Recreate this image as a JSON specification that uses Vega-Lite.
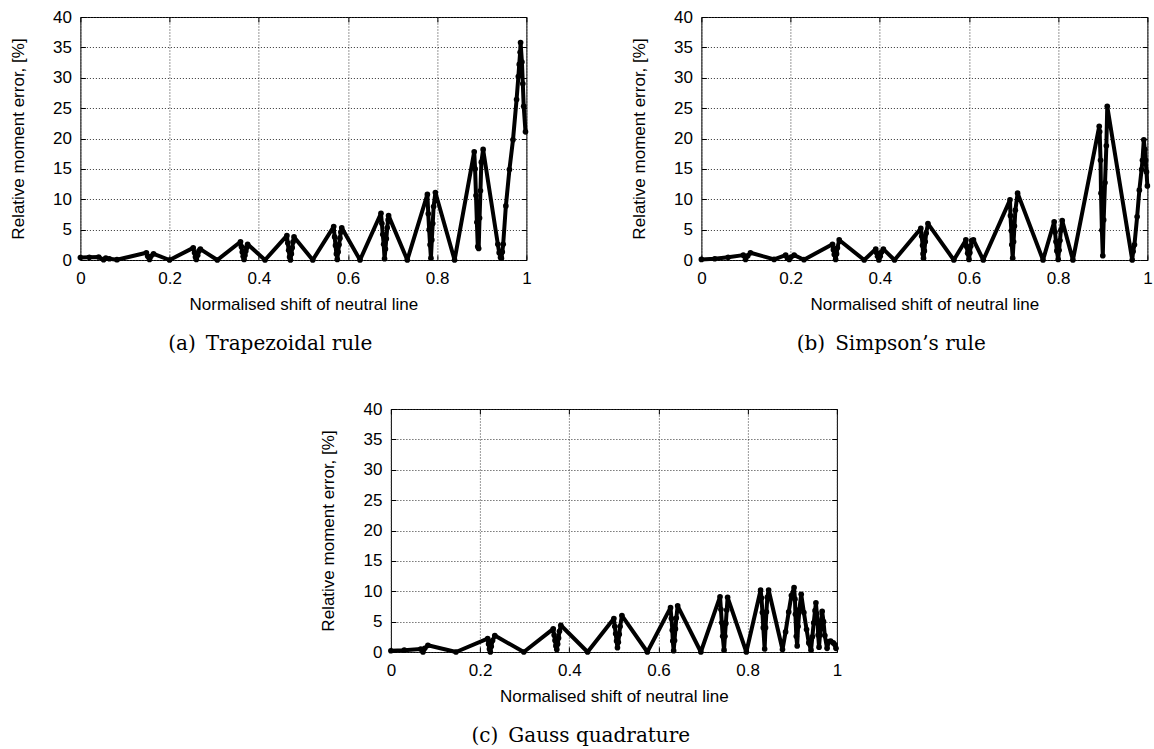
{
  "$schema": "https://vega.github.io/schema/vega-lite/v6.json",
  "padding": {"left": 8, "top": 7, "right": 0, "bottom": 0},
  "background": "white",
  "datasets": {
    "trapezoidal": [
      {"x":0,"y":0.4},{"x":0.02,"y":0.45},{"x":0.041,"y":0.5},{"x":0.052,"y":0.05},{"x":0.057,"y":0.3},{"x":0.065,"y":0.2},{"x":0.082,"y":0.05},
      {"x":0.148,"y":1.2},{"x":0.151,"y":0.6},{"x":0.155,"y":0.1},{"x":0.158,"y":0.6},{"x":0.164,"y":1.0},{"x":0.2,"y":0},
      {"x":0.253,"y":2.0},{"x":0.256,"y":1.2},{"x":0.258,"y":0.5},{"x":0.26,"y":0.1},{"x":0.263,"y":0.8},{"x":0.266,"y":1.5},{"x":0.269,"y":1.8},{"x":0.307,"y":0},
      {"x":0.359,"y":3.0},{"x":0.361,"y":2.2},{"x":0.363,"y":1.3},{"x":0.365,"y":0.6},{"x":0.367,"y":0.1},{"x":0.369,"y":0.8},{"x":0.371,"y":1.5},{"x":0.373,"y":2.1},{"x":0.375,"y":2.6},{"x":0.414,"y":0},
      {"x":0.463,"y":4.0},{"x":0.465,"y":2.8},{"x":0.467,"y":1.6},{"x":0.469,"y":0.5},{"x":0.471,"y":0},{"x":0.473,"y":1.0},{"x":0.475,"y":2.0},{"x":0.477,"y":3.0},{"x":0.479,"y":3.8},{"x":0.521,"y":0},
      {"x":0.568,"y":5.5},{"x":0.570,"y":3.8},{"x":0.572,"y":2.4},{"x":0.574,"y":1.0},{"x":0.576,"y":0.1},{"x":0.578,"y":1.3},{"x":0.580,"y":2.5},{"x":0.582,"y":3.6},{"x":0.584,"y":4.6},{"x":0.586,"y":5.3},{"x":0.627,"y":0},
      {"x":0.674,"y":7.7},{"x":0.676,"y":6.0},{"x":0.678,"y":4.2},{"x":0.680,"y":2.6},{"x":0.682,"y":0.2},{"x":0.684,"y":1.8},{"x":0.686,"y":3.5},{"x":0.688,"y":5.3},{"x":0.690,"y":6.6},{"x":0.691,"y":7.3},{"x":0.733,"y":0},
      {"x":0.778,"y":10.8},{"x":0.780,"y":7.6},{"x":0.782,"y":5.0},{"x":0.784,"y":2.5},{"x":0.786,"y":0.3},{"x":0.788,"y":3.3},{"x":0.790,"y":6.0},{"x":0.792,"y":8.8},{"x":0.796,"y":11.1},{"x":0.839,"y":0},
      {"x":0.883,"y":17.8},{"x":0.885,"y":15.0},{"x":0.887,"y":10.6},{"x":0.889,"y":6.2},{"x":0.891,"y":2.2},{"x":0.893,"y":1.9},{"x":0.895,"y":6.9},{"x":0.897,"y":11.4},{"x":0.899,"y":16.1},{"x":0.903,"y":18.2},
      {"x":0.936,"y":2.6},{"x":0.939,"y":1.2},{"x":0.942,"y":0.4},{"x":0.944,"y":0.3},{"x":0.946,"y":1.3},{"x":0.948,"y":2.6},
      {"x":0.954,"y":8.9},{"x":0.962,"y":14.9},{"x":0.970,"y":19.8},{"x":0.978,"y":26.4},{"x":0.982,"y":30.2},{"x":0.984,"y":32.2},{"x":0.986,"y":34.2},{"x":0.987,"y":35.8},
      {"x":0.990,"y":32.6},{"x":0.992,"y":29.0},{"x":0.994,"y":25.3},{"x":0.998,"y":21.1}
    ],
    "simpson": [
      {"x":0,"y":0.1},{"x":0.03,"y":0.2},{"x":0.06,"y":0.45},{"x":0.094,"y":0.8},{"x":0.099,"y":0.1},{"x":0.104,"y":0.7},{"x":0.11,"y":1.2},{"x":0.163,"y":0.1},
      {"x":0.189,"y":0.8},{"x":0.193,"y":0.3},{"x":0.197,"y":0.1},{"x":0.201,"y":0.5},{"x":0.208,"y":0.8},{"x":0.23,"y":0.05},
      {"x":0.294,"y":2.6},{"x":0.296,"y":1.7},{"x":0.298,"y":0.9},{"x":0.301,"y":0.1},{"x":0.303,"y":1.0},{"x":0.305,"y":2.0},{"x":0.309,"y":3.3},{"x":0.365,"y":0},
      {"x":0.391,"y":1.8},{"x":0.393,"y":1.2},{"x":0.395,"y":0.6},{"x":0.398,"y":0},{"x":0.401,"y":0.6},{"x":0.404,"y":1.3},{"x":0.408,"y":1.8},{"x":0.433,"y":0},
      {"x":0.492,"y":5.2},{"x":0.494,"y":3.9},{"x":0.496,"y":2.4},{"x":0.497,"y":1.0},{"x":0.498,"y":0.3},{"x":0.500,"y":1.5},{"x":0.502,"y":3.0},{"x":0.504,"y":4.4},{"x":0.508,"y":6.0},{"x":0.566,"y":0},
      {"x":0.593,"y":3.3},{"x":0.595,"y":2.2},{"x":0.597,"y":1.1},{"x":0.600,"y":0.1},{"x":0.602,"y":1.2},{"x":0.604,"y":2.3},{"x":0.606,"y":3.2},{"x":0.610,"y":3.3},{"x":0.632,"y":0},
      {"x":0.692,"y":9.9},{"x":0.693,"y":7.3},{"x":0.695,"y":4.8},{"x":0.696,"y":2.5},{"x":0.698,"y":0.3},{"x":0.700,"y":3.0},{"x":0.702,"y":5.6},{"x":0.704,"y":8.2},{"x":0.709,"y":11.0},{"x":0.766,"y":0},
      {"x":0.791,"y":6.3},{"x":0.793,"y":4.6},{"x":0.795,"y":3.0},{"x":0.797,"y":1.5},{"x":0.800,"y":0.1},{"x":0.802,"y":1.6},{"x":0.804,"y":3.2},{"x":0.806,"y":4.9},{"x":0.809,"y":6.5},{"x":0.833,"y":0},
      {"x":0.892,"y":22.0},{"x":0.893,"y":21.1},{"x":0.895,"y":16.4},{"x":0.896,"y":11.0},{"x":0.898,"y":4.9},{"x":0.900,"y":0.7},{"x":0.902,"y":6.6},{"x":0.905,"y":12.7},{"x":0.908,"y":18.8},{"x":0.910,"y":25.3},
      {"x":0.966,"y":0},{"x":0.968,"y":1.4},{"x":0.971,"y":2.5},{"x":0.977,"y":7.1},{"x":0.982,"y":11.5},{"x":0.987,"y":14.9},{"x":0.989,"y":16.4},{"x":0.992,"y":19.8},
      {"x":0.994,"y":18.2},{"x":0.996,"y":16.4},{"x":0.998,"y":14.5},{"x":1.0,"y":12.2}
    ],
    "gauss": [
      {"x":0,"y":0.2},{"x":0.03,"y":0.3},{"x":0.067,"y":0.5},{"x":0.072,"y":0},{"x":0.076,"y":0.6},{"x":0.083,"y":1.1},{"x":0.146,"y":0},
      {"x":0.217,"y":2.2},{"x":0.219,"y":1.3},{"x":0.221,"y":0.5},{"x":0.223,"y":0},{"x":0.225,"y":0.9},{"x":0.228,"y":1.9},{"x":0.233,"y":2.7},{"x":0.298,"y":0},
      {"x":0.364,"y":3.8},{"x":0.366,"y":2.8},{"x":0.368,"y":1.9},{"x":0.370,"y":1.0},{"x":0.372,"y":0.4},{"x":0.374,"y":1.3},{"x":0.376,"y":2.3},{"x":0.378,"y":3.4},{"x":0.381,"y":4.4},{"x":0.441,"y":0},
      {"x":0.500,"y":5.5},{"x":0.502,"y":4.2},{"x":0.504,"y":3.0},{"x":0.506,"y":1.8},{"x":0.508,"y":0.7},{"x":0.510,"y":1.6},{"x":0.512,"y":2.9},{"x":0.514,"y":4.2},{"x":0.518,"y":6.0},{"x":0.575,"y":0},
      {"x":0.627,"y":7.3},{"x":0.629,"y":5.5},{"x":0.631,"y":3.6},{"x":0.632,"y":1.8},{"x":0.634,"y":0.2},{"x":0.636,"y":1.9},{"x":0.638,"y":3.8},{"x":0.640,"y":5.6},{"x":0.643,"y":7.6},{"x":0.695,"y":0},
      {"x":0.738,"y":9.1},{"x":0.740,"y":7.0},{"x":0.742,"y":4.8},{"x":0.744,"y":2.6},{"x":0.747,"y":0.3},{"x":0.749,"y":2.6},{"x":0.751,"y":4.7},{"x":0.753,"y":6.9},{"x":0.755,"y":9.0},{"x":0.797,"y":0},
      {"x":0.829,"y":10.2},{"x":0.831,"y":8.9},{"x":0.833,"y":6.5},{"x":0.835,"y":4.0},{"x":0.838,"y":0.5},{"x":0.840,"y":4.0},{"x":0.842,"y":6.6},{"x":0.844,"y":9.0},{"x":0.847,"y":10.2},{"x":0.878,"y":0.4},
      {"x":0.885,"y":3.3},{"x":0.892,"y":6.6},{"x":0.898,"y":9.3},{"x":0.904,"y":10.6},{"x":0.906,"y":8.7},{"x":0.907,"y":6.2},{"x":0.909,"y":2.6},{"x":0.911,"y":1.0},{"x":0.913,"y":4.2},{"x":0.916,"y":7.0},{"x":0.920,"y":9.5},
      {"x":0.926,"y":6.5},{"x":0.932,"y":3.7},{"x":0.937,"y":1.5},{"x":0.942,"y":0.3},
      {"x":0.945,"y":2.5},{"x":0.948,"y":4.8},{"x":0.951,"y":6.8},{"x":0.953,"y":8.1},{"x":0.955,"y":6.3},{"x":0.957,"y":4.7},{"x":0.958,"y":2.8},{"x":0.960,"y":0.8},{"x":0.962,"y":2.8},{"x":0.964,"y":4.7},{"x":0.967,"y":6.7},
      {"x":0.970,"y":5.0},{"x":0.973,"y":2.7},{"x":0.978,"y":0.6},{"x":0.982,"y":1.7},{"x":0.986,"y":1.8},{"x":0.992,"y":1.5},{"x":0.996,"y":1.2},{"x":0.998,"y":0.6}
    ]
  },
  "config": {
    "view": {"stroke": "black", "strokeWidth": 1},
    "axis": {
      "labelFont": "Liberation Sans", "labelFontSize": 17, "labelColor": "black",
      "titleFont": "Liberation Sans", "titleFontSize": 17, "titleFontWeight": "normal", "titleColor": "black",
      "domain": false, "gridDash": [1, 2], "gridColor": "#333", "gridOpacity": 1, "gridWidth": 1,
      "tickColor": "black", "tickSize": -5, "tickWidth": 1, "labelOverlap": false, "labelFlush": false
    },
    "axisX": {"labelPadding": 15, "titlePadding": 10},
    "axisY": {"labelPadding": 14, "titlePadding": 25},
    "title": {"font": "DejaVu Serif", "fontSize": 20, "fontWeight": "normal", "color": "black", "orient": "bottom", "anchor": "middle", "frame": "bounds", "offset": 22}
  },
  "spacing": 44,
  "center": true,
  "vconcat": [
    {
      "spacing": 97,
      "hconcat": [
        {
          "title": "(a)\u2002Trapezoidal rule",
          "width": 446, "height": 243,
          "data": {"name": "trapezoidal"},
          "resolve": {"axis": {"x": "independent", "y": "independent"}},
          "layer": [
            {
              "mark": {"type": "line", "color": "black", "strokeWidth": 4, "strokeJoin": "round", "strokeCap": "round"},
              "encoding": {
                "x": {"field": "x", "type": "quantitative", "scale": {"domain": [0, 1], "nice": false}, "axis": {"grid": true, "values": [0, 0.2, 0.4, 0.6, 0.8, 1], "format": "~g", "title": "Normalised shift of neutral line"}},
                "y": {"field": "y", "type": "quantitative", "scale": {"domain": [0, 40]}, "axis": {"grid": true, "values": [0, 5, 10, 15, 20, 25, 30, 35, 40], "title": "Relative moment error, [%]"}}
              }
            },
            {
              "mark": {"type": "point", "filled": true, "color": "black", "size": 32, "opacity": 1},
              "encoding": {
                "x": {"field": "x", "type": "quantitative", "axis": {"orient": "top", "grid": false, "labels": false, "title": null, "values": [0, 0.2, 0.4, 0.6, 0.8, 1]}},
                "y": {"field": "y", "type": "quantitative", "axis": {"orient": "right", "grid": false, "labels": false, "title": null, "values": [0, 5, 10, 15, 20, 25, 30, 35, 40]}}
              }
            }
          ]
        },
        {
          "title": "(b)\u2002Simpson’s rule",
          "width": 446, "height": 243,
          "data": {"name": "simpson"},
          "resolve": {"axis": {"x": "independent", "y": "independent"}},
          "layer": [
            {
              "mark": {"type": "line", "color": "black", "strokeWidth": 4, "strokeJoin": "round", "strokeCap": "round"},
              "encoding": {
                "x": {"field": "x", "type": "quantitative", "scale": {"domain": [0, 1], "nice": false}, "axis": {"grid": true, "values": [0, 0.2, 0.4, 0.6, 0.8, 1], "format": "~g", "title": "Normalised shift of neutral line"}},
                "y": {"field": "y", "type": "quantitative", "scale": {"domain": [0, 40]}, "axis": {"grid": true, "values": [0, 5, 10, 15, 20, 25, 30, 35, 40], "title": "Relative moment error, [%]"}}
              }
            },
            {
              "mark": {"type": "point", "filled": true, "color": "black", "size": 32, "opacity": 1},
              "encoding": {
                "x": {"field": "x", "type": "quantitative", "axis": {"orient": "top", "grid": false, "labels": false, "title": null, "values": [0, 0.2, 0.4, 0.6, 0.8, 1]}},
                "y": {"field": "y", "type": "quantitative", "axis": {"orient": "right", "grid": false, "labels": false, "title": null, "values": [0, 5, 10, 15, 20, 25, 30, 35, 40]}}
              }
            }
          ]
        }
      ]
    },
    {
      "title": "(c)\u2002Gauss quadrature",
      "width": 446, "height": 243,
      "data": {"name": "gauss"},
      "resolve": {"axis": {"x": "independent", "y": "independent"}},
      "layer": [
        {
          "mark": {"type": "line", "color": "black", "strokeWidth": 4, "strokeJoin": "round", "strokeCap": "round"},
          "encoding": {
            "x": {"field": "x", "type": "quantitative", "scale": {"domain": [0, 1], "nice": false}, "axis": {"grid": true, "values": [0, 0.2, 0.4, 0.6, 0.8, 1], "format": "~g", "title": "Normalised shift of neutral line"}},
            "y": {"field": "y", "type": "quantitative", "scale": {"domain": [0, 40]}, "axis": {"grid": true, "values": [0, 5, 10, 15, 20, 25, 30, 35, 40], "title": "Relative moment error, [%]"}}
          }
        },
        {
          "mark": {"type": "point", "filled": true, "color": "black", "size": 32, "opacity": 1},
          "encoding": {
            "x": {"field": "x", "type": "quantitative", "axis": {"orient": "top", "grid": false, "labels": false, "title": null, "values": [0, 0.2, 0.4, 0.6, 0.8, 1]}},
            "y": {"field": "y", "type": "quantitative", "axis": {"orient": "right", "grid": false, "labels": false, "title": null, "values": [0, 5, 10, 15, 20, 25, 30, 35, 40]}}
          }
        }
      ]
    }
  ]
}
